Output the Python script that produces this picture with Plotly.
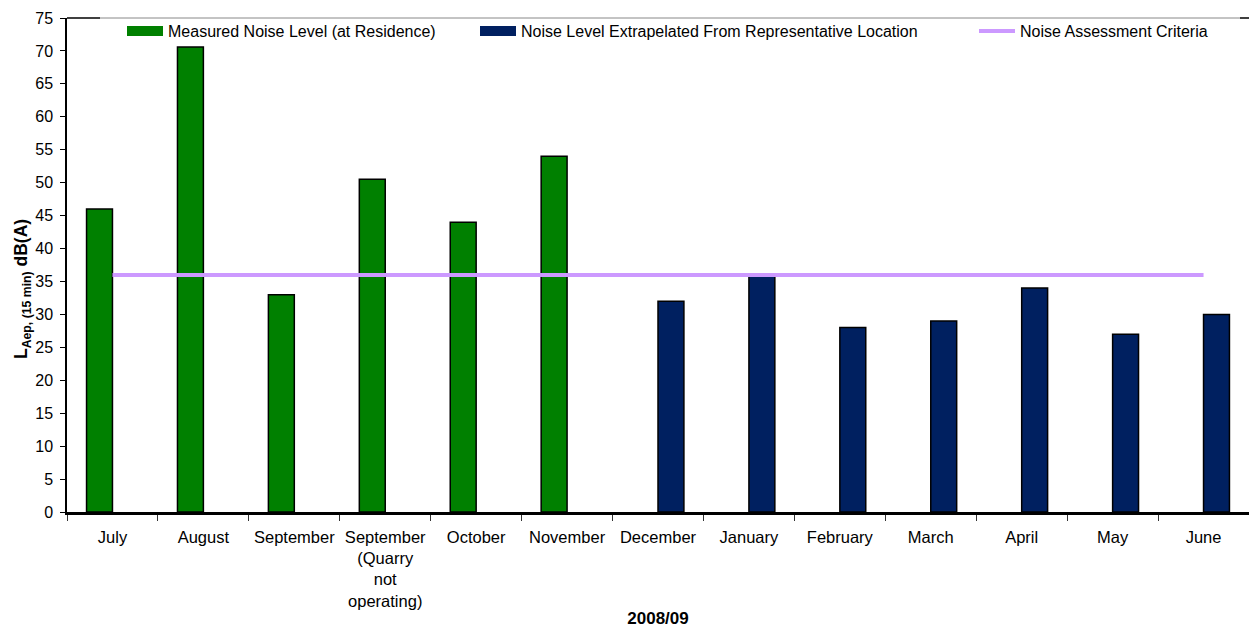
import plotly.graph_objects as go

categories = ["July", "August", "September", "September<br>(Quarry<br>not<br>operating)",
              "October", "November", "December", "January", "February", "March",
              "April", "May", "June"]
measured = [46, 70.6, 33, 50.5, 44, 54, None, None, None, None, None, None, None]
extrapolated = [None, None, None, None, None, None, 32, 36, 28, 29, 34, 27, 30]
criteria = [36] * 13

names = ["Measured Noise Level (at Residence)",
         "Noise Level Extrapelated From Representative Location",
         "Noise Assessment Criteria"]
y_title = "<b>L<sub>Aep, (15 min)</sub> dB(A)</b>"
x_title = "<b>2008/09</b>"

GREEN = "#008000"
NAVY = "#002060"
PURPLE = "#CC99FF"
FONT = "Liberation Sans, Arial, sans-serif"

fig = go.Figure()
fig.add_trace(go.Bar(x=categories, y=measured, name=names[0],
                     marker=dict(color=GREEN, line=dict(color="black", width=1.5)),
                     showlegend=False))
fig.add_trace(go.Bar(x=categories, y=extrapolated, name=names[1],
                     marker=dict(color=NAVY, line=dict(color="black", width=1.5)),
                     showlegend=False))
fig.add_trace(go.Scatter(x=categories, y=criteria, name=names[2], mode="lines",
                         line=dict(color=PURPLE, width=4), showlegend=False))

# legend entries
fig.add_trace(go.Scatter(x=[None], y=[None], mode="lines", name=names[0],
                         line=dict(color=GREEN, width=10), legend="legend"))
fig.add_trace(go.Scatter(x=[None], y=[None], mode="lines", name=names[1],
                         line=dict(color=NAVY, width=10), legend="legend2"))
fig.add_trace(go.Scatter(x=[None], y=[None], mode="lines", name=names[2],
                         line=dict(color=PURPLE, width=4), legend="legend3"))

W, H = 1249, 628
L, R, T, B = 67, 0, 18, 116
pw = W - L - R
ph = H - T - B

def lx(px):
    return (px - L) / pw

def ly(py):
    return (H - B - py) / ph

leg_common = dict(orientation="h", yanchor="middle", y=ly(31),
                  xanchor="left", bgcolor="rgba(0,0,0,0)", itemwidth=36,
                  font=dict(family=FONT, size=16, color="black"))

fig.update_layout(
    width=W, height=H,
    margin=dict(l=L, r=R, t=T, b=B, autoexpand=False),
    paper_bgcolor="white", plot_bgcolor="white",
    barmode="group", bargap=0.43, bargroupgap=0,
    font=dict(family=FONT, size=16, color="black"),
    legend=dict(leg_common, x=lx(122)),
    legend2=dict(leg_common, x=lx(475)),
    legend3=dict(leg_common, x=lx(974)),
    xaxis=dict(
        type="category", tickson="boundaries", ticks="outside", ticklen=6,
        tickcolor="#333333", showline=True, linecolor="black", linewidth=2.5,
        showgrid=False, tickfont=dict(family=FONT, size=16.5, color="black"),
        tickangle=0, automargin=False, ticklabelstandoff=8,
        title=dict(text=x_title, font=dict(family=FONT, size=17, color="black"), standoff=6),
        range=[-0.5, 12.5],
    ),
    yaxis=dict(
        range=[0, 75], dtick=5, ticks="outside", ticklen=5, tickcolor="black",
        showline=True, linecolor="black", linewidth=1.5, showgrid=False, zeroline=False,
        automargin=False,
        tickfont=dict(family=FONT, size=16, color="black"), ticklabelstandoff=4,
    ),
    annotations=[
        dict(text=y_title, xref="paper", yref="paper", x=lx(22), y=ly(289),
             xanchor="center", yanchor="middle", textangle=-90, showarrow=False,
             font=dict(family=FONT, size=17.5, color="black")),
    ],
    shapes=[
        dict(type="line", xref="paper", yref="paper", x0=0, x1=lx(100), y0=1, y1=1,
             line=dict(color="black", width=1.5)),
        dict(type="line", xref="paper", yref="paper", x0=lx(100), x1=lx(1240), y0=1, y1=1,
             line=dict(color="#888888", width=1)),
        dict(type="line", xref="paper", yref="paper", x0=lx(1240), x1=1, y0=1, y1=1,
             line=dict(color="black", width=1.5)),
    ],
)

fig.write_html("out.html", config={"displayModeBar": False},
               post_script="document.body.style.margin='0';document.body.style.overflow='hidden';")
